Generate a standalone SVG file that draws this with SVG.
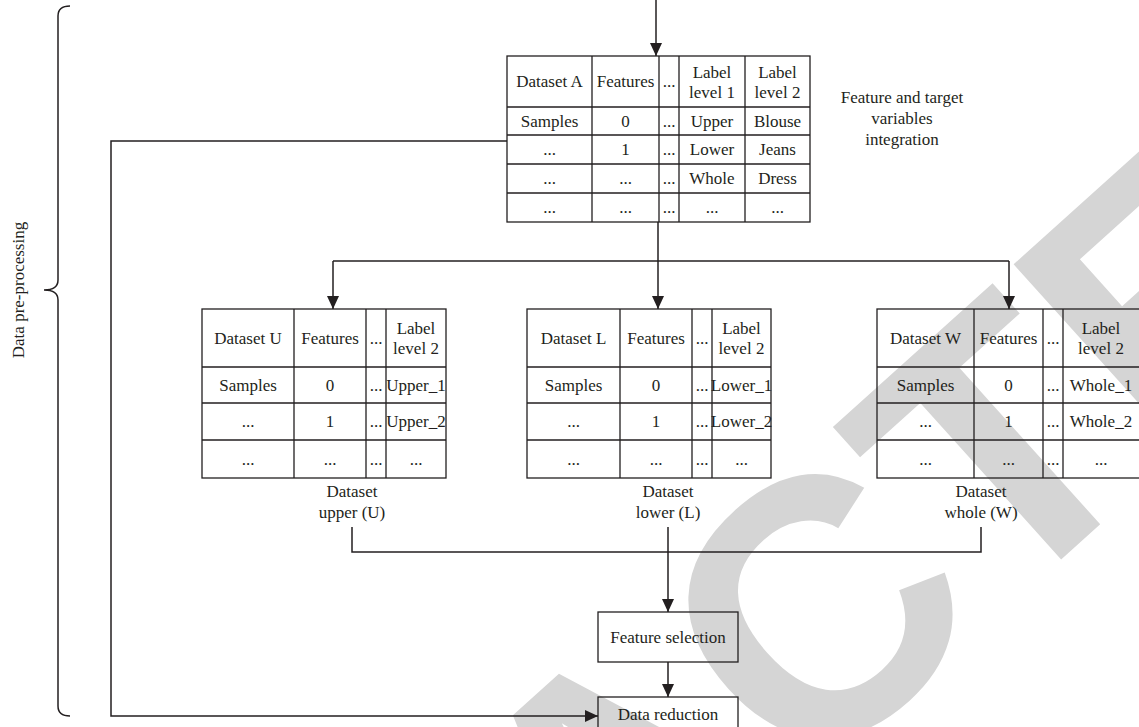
<svg xmlns="http://www.w3.org/2000/svg" width="1139" height="727" viewBox="0 0 1139 727">
<style>
.t{font-family:"Liberation Serif","Times New Roman",serif;font-size:17px;fill:#231f20;text-anchor:middle;dominant-baseline:central}
.c{fill:none;stroke:#231f20;stroke-width:1.5}
.g{fill:none;stroke:#231f20;stroke-width:1.3}
.wm{font-family:"Liberation Sans",Arial,sans-serif;font-weight:bold;font-size:365px;fill:#d5d5d5;text-anchor:middle}
</style>
<defs>
<marker id="ah" markerUnits="userSpaceOnUse" markerWidth="14" markerHeight="14" viewBox="0 0 14 14" refX="13" refY="7" orient="auto">
<path d="M0,1 L13,7 L0,13 Z" fill="#231f20"/>
</marker>
</defs>
<rect width="1139" height="727" fill="#fff"/>
<g id="watermark">
<text class="wm" transform="translate(704,881) rotate(-42)">RETRACTED</text>
</g>
<g id="brace">
<path class="c" d="M70,6 Q58,6 58,16 L58,280 Q58,290 44,290 Q58,290 58,300 L58,706 Q58,716 70,716" stroke-width="1.2"/>
<text class="t" transform="translate(18,290) rotate(-90)" font-size="15">Data pre-processing</text>
</g>
<g id="connectors">
<path class="c" d="M656,0 L656,56" marker-end="url(#ah)"/>
<path class="c" d="M658,222 L658,309" marker-end="url(#ah)"/>
<path class="c" d="M333,261 L1009,261"/>
<path class="c" d="M333,261 L333,309" marker-end="url(#ah)"/>
<path class="c" d="M1009,261 L1009,309" marker-end="url(#ah)"/>
<path class="c" d="M352,527 L352,552 L981,552 L981,527"/>
<path class="c" d="M668,527 L668,612" marker-end="url(#ah)"/>
<path class="c" d="M668,662 L668,697" marker-end="url(#ah)"/>
<path class="c" d="M507,141 L111,141 L111,716 L598,716" marker-end="url(#ah)"/>
</g>
<g id="tableA">
<rect class="g" x="507" y="56" width="303" height="166"/>
<path class="g" d="M592,56V222M659,56V222M679,56V222M745,56V222M507,107H810M507,135H810M507,164H810M507,193H810"/>
<text class="t" x="549.5" y="81.5">Dataset A</text>
<text class="t" x="625.5" y="81.5">Features</text>
<text class="t" x="669" y="81.5">...</text>
<text class="t" x="712" y="72">Label</text>
<text class="t" x="712" y="92">level 1</text>
<text class="t" x="777.5" y="72">Label</text>
<text class="t" x="777.5" y="92">level 2</text>
<text class="t" x="549.5" y="121">Samples</text>
<text class="t" x="625.5" y="121">0</text>
<text class="t" x="669" y="121">...</text>
<text class="t" x="712" y="121">Upper</text>
<text class="t" x="777.5" y="121">Blouse</text>
<text class="t" x="549.5" y="149.5">...</text>
<text class="t" x="625.5" y="149.5">1</text>
<text class="t" x="669" y="149.5">...</text>
<text class="t" x="712" y="149.5">Lower</text>
<text class="t" x="777.5" y="149.5">Jeans</text>
<text class="t" x="549.5" y="178.5">...</text>
<text class="t" x="625.5" y="178.5">...</text>
<text class="t" x="669" y="178.5">...</text>
<text class="t" x="712" y="178.5">Whole</text>
<text class="t" x="777.5" y="178.5">Dress</text>
<text class="t" x="549.5" y="207.5">...</text>
<text class="t" x="625.5" y="207.5">...</text>
<text class="t" x="669" y="207.5">...</text>
<text class="t" x="712" y="207.5">...</text>
<text class="t" x="777.5" y="207.5">...</text>
</g>
<g id="integration-label">
<text class="t" x="902" y="97">Feature and target</text>
<text class="t" x="902" y="118">variables</text>
<text class="t" x="902" y="139">integration</text>
</g>
<g id="tableU">
<rect class="g" x="202" y="309" width="244" height="169"/>
<path class="g" d="M294,309V478M366,309V478M386,309V478M202,367H446M202,403H446M202,440H446"/>
<text class="t" x="248" y="338">Dataset U</text>
<text class="t" x="330" y="338">Features</text>
<text class="t" x="376" y="338">...</text>
<text class="t" x="416" y="328">Label</text>
<text class="t" x="416" y="348">level 2</text>
<text class="t" x="248" y="385">Samples</text>
<text class="t" x="330" y="385">0</text>
<text class="t" x="376" y="385">...</text>
<text class="t" x="416" y="385">Upper_1</text>
<text class="t" x="248" y="421.5">...</text>
<text class="t" x="330" y="421.5">1</text>
<text class="t" x="376" y="421.5">...</text>
<text class="t" x="416" y="421.5">Upper_2</text>
<text class="t" x="248" y="459">...</text>
<text class="t" x="330" y="459">...</text>
<text class="t" x="376" y="459">...</text>
<text class="t" x="416" y="459">...</text>
<text class="t" x="352" y="491">Dataset</text>
<text class="t" x="352" y="512">upper (U)</text>
</g>
<g id="tableL">
<rect class="g" x="527" y="309" width="244" height="169"/>
<path class="g" d="M620,309V478M692,309V478M712,309V478M527,367H771M527,403H771M527,440H771"/>
<text class="t" x="573.5" y="338">Dataset L</text>
<text class="t" x="656" y="338">Features</text>
<text class="t" x="702" y="338">...</text>
<text class="t" x="741.5" y="328">Label</text>
<text class="t" x="741.5" y="348">level 2</text>
<text class="t" x="573.5" y="385">Samples</text>
<text class="t" x="656" y="385">0</text>
<text class="t" x="702" y="385">...</text>
<text class="t" x="741.5" y="385">Lower_1</text>
<text class="t" x="573.5" y="421.5">...</text>
<text class="t" x="656" y="421.5">1</text>
<text class="t" x="702" y="421.5">...</text>
<text class="t" x="741.5" y="421.5">Lower_2</text>
<text class="t" x="573.5" y="459">...</text>
<text class="t" x="656" y="459">...</text>
<text class="t" x="702" y="459">...</text>
<text class="t" x="741.5" y="459">...</text>
<text class="t" x="668" y="491">Dataset</text>
<text class="t" x="668" y="512">lower (L)</text>
</g>
<g id="tableW">
<rect class="g" x="877" y="309" width="270" height="169"/>
<path class="g" d="M974,309V478M1043,309V478M1063,309V478M877,367H1147M877,403H1147M877,440H1147"/>
<text class="t" x="925.5" y="338">Dataset W</text>
<text class="t" x="1008.5" y="338">Features</text>
<text class="t" x="1053" y="338">...</text>
<text class="t" x="1101" y="328">Label</text>
<text class="t" x="1101" y="348">level 2</text>
<text class="t" x="925.5" y="385">Samples</text>
<text class="t" x="1008.5" y="385">0</text>
<text class="t" x="1053" y="385">...</text>
<text class="t" x="1101" y="385">Whole_1</text>
<text class="t" x="925.5" y="421.5">...</text>
<text class="t" x="1008.5" y="421.5">1</text>
<text class="t" x="1053" y="421.5">...</text>
<text class="t" x="1101" y="421.5">Whole_2</text>
<text class="t" x="925.5" y="459">...</text>
<text class="t" x="1008.5" y="459">...</text>
<text class="t" x="1053" y="459">...</text>
<text class="t" x="1101" y="459">...</text>
<text class="t" x="981" y="491">Dataset</text>
<text class="t" x="981" y="512">whole (W)</text>
</g>
<g id="feature-selection">
<rect class="g" x="598" y="612" width="140" height="50"/>
<text class="t" x="668" y="637">Feature selection</text>
</g>
<g id="data-reduction">
<rect class="g" x="598" y="697" width="140" height="40"/>
<text class="t" x="668" y="714">Data reduction</text>
</g>
</svg>
